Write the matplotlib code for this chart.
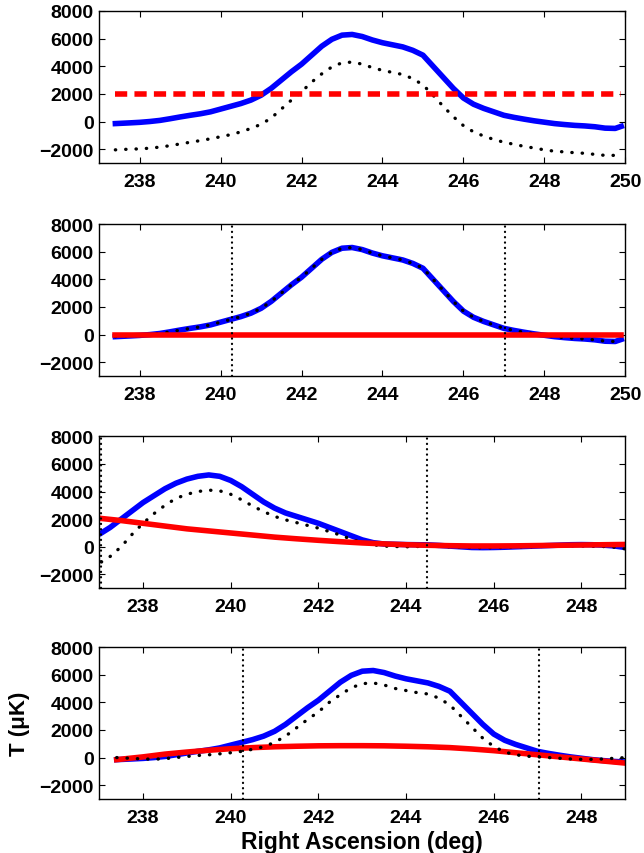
import numpy as np
import matplotlib
matplotlib.use("Agg")
import matplotlib.pyplot as plt

plt.rcParams['font.family'] = ['Liberation Sans', 'DejaVu Sans']
plt.rcParams['font.weight'] = 'bold'

# sky signal (blue), shared by panels 1, 2 and 4
ra = [237.4, 237.75, 238.0, 238.25, 238.5, 238.75, 239.0, 239.25, 239.5, 239.75,
      240.0, 240.25, 240.5, 240.75, 241.0, 241.25, 241.5, 241.75, 242.0, 242.25,
      242.5, 242.75, 243.0, 243.25, 243.5, 243.75, 244.0, 244.25, 244.5, 244.75,
      245.0, 245.25, 245.5, 245.75, 246.0, 246.25, 246.5, 246.75, 247.0, 247.25,
      247.5, 247.75, 248.0, 248.25, 248.5, 248.75, 249.0, 249.25, 249.5, 249.75, 249.9]
sky = [-150, -100, -60, 0, 80, 200, 330, 450, 560, 700,
       900, 1100, 1300, 1550, 1900, 2400, 3000, 3600, 4150, 4800,
       5450, 5950, 6250, 6300, 6150, 5900, 5700, 5550, 5400, 5150,
       4800, 4000, 3200, 2400, 1700, 1250, 950, 700, 450, 300,
       170, 50, -50, -150, -220, -280, -320, -380, -480, -500, -350]

# panel 1: constant offset baseline and residual
offset1 = 2000
resid1 = [-2050, -2000, -1980, -1930, -1850, -1750, -1620, -1500, -1380, -1250,
          -1100, -950, -750, -500, -200, 250, 900, 1550, 2150, 2850,
          3450, 3950, 4250, 4300, 4150, 3900, 3700, 3550, 3400, 3100,
          2650, 1900, 1100, 350, -300, -750, -1050, -1300, -1500, -1650,
          -1800, -1920, -2050, -2150, -2200, -2260, -2300, -2380, -2450, -2450, -2300]

# panel 2: zero baseline, window edges
base2 = 0
win2 = [240.28, 247.03]

# panel 3
ra3 = [237.05, 237.25, 237.5, 237.75, 238.0, 238.25, 238.5, 238.75, 239.0, 239.25,
       239.5, 239.75, 240.0, 240.25, 240.5, 240.75, 241.0, 241.25, 241.5, 241.75,
       242.0, 242.25, 242.5, 242.75, 243.0, 243.25, 243.5, 243.75, 244.0, 244.25,
       244.5, 244.75, 245.0, 245.25, 245.5, 245.75, 246.0, 246.25, 246.5, 246.75,
       247.0, 247.25, 247.5, 247.75, 248.0, 248.25, 248.5, 248.75, 249.0]
sky3 = [1000, 1400, 2000, 2600, 3200, 3700, 4200, 4600, 4900, 5100,
        5200, 5100, 4800, 4350, 3800, 3250, 2800, 2450, 2200, 1950,
        1700, 1400, 1100, 800, 500, 300, 200, 180, 160, 150,
        140, 100, 50, 0, -50, -60, -50, -30, 0, 30,
        60, 90, 120, 150, 160, 150, 120, 60, -50]
resid3 = [-1100, -700, 0, 900, 1700, 2400, 3000, 3500, 3800, 4000,
          4100, 4050, 3800, 3400, 2950, 2550, 2200, 1950, 1750, 1550,
          1350, 1100, 850, 550, 300, 150, 50, 20, 0, 20,
          50, 30, 0, -30, -60, -70, -60, -40, -20, 0,
          20, 40, 60, 70, 60, 40, 20, -30, -150]
ra3_base = [237.05, 237.5, 238.0, 238.5, 239.0, 239.5, 240.0, 240.5, 241.0, 241.5,
            242.0, 242.5, 243.0, 243.5, 244.0, 244.5, 245.0, 245.5, 246.0, 246.5,
            247.0, 247.5, 248.0, 248.5, 249.0]
base3 = [2050, 1900, 1700, 1500, 1300, 1150, 1000, 850, 700, 580,
         470, 370, 280, 210, 150, 110, 80, 60, 60, 70,
         90, 110, 130, 150, 170]
win3 = [237.05, 244.47]

# panel 4
resid4 = [0, -60, -100, -120, -80, 0, 80, 150, 200, 270,
          350, 450, 600, 780, 1100, 1550, 2150, 2750, 3300, 4000,
          4550, 5050, 5350, 5400, 5250, 5000, 4850, 4700, 4600, 4300,
          3800, 3000, 2200, 1400, 800, 400, 200, 100, 50, 0,
          -50, -100, -130, -130, -100, -50, 0, 0, 0, 0, 0]
ra4_base = [237.4, 238.0, 238.5, 239.0, 239.5, 240.0, 240.5, 241.0, 241.5, 242.0,
            242.5, 243.0, 243.5, 244.0, 244.5, 245.0, 245.5, 246.0, 246.5, 247.0,
            247.5, 248.0, 248.5, 249.0, 249.5]
base4 = [-150, 50, 250, 400, 530, 640, 720, 780, 820, 850,
         860, 860, 850, 820, 780, 720, 620, 500, 350, 200,
         50, -100, -250, -400, -550]
win4 = [240.28, 247.03]

yticks = [-2000, 0, 2000, 4000, 6000, 8000]

fig = plt.figure(figsize=(6.44, 8.54), dpi=100)
left, width, height = 0.154, 0.817, 0.178
bottoms = [0.808, 0.5585, 0.310, 0.0632]
axes = [fig.add_axes([left, b, width, height]) for b in bottoms]

lw = 4.0
dot = dict(color='k', lw=2.4, linestyle=(0, (0.1, 3.0)), dash_capstyle='round')
vdot = dict(color='k', lw=1.6, linestyle=(0, (0.1, 2.3)), dash_capstyle='round')

ax = axes[0]
ax.plot(ra, sky, color='b', lw=lw)
ax.plot(ra, resid1, **dot)
ax.plot([ra[0], ra[-1]], [offset1, offset1], color='r', lw=lw, linestyle=(0, (2.2, 1.3)))
ax.set_xlim(237, 250)
ax.set_xticks(range(238, 251, 2))

ax = axes[1]
ax.plot(ra, sky, color='b', lw=lw)
ax.plot(ra, sky, **dot)
ax.plot([ra[0], ra[-1]], [base2, base2], color='r', lw=lw)
for w in win2:
    ax.axvline(w, **vdot)
ax.set_xlim(237, 250)
ax.set_xticks(range(238, 251, 2))

ax = axes[2]
ax.plot(ra3, sky3, color='b', lw=lw)
ax.plot(ra3, resid3, **dot)
ax.plot(ra3_base, base3, color='r', lw=lw)
for w in win3:
    ax.axvline(w, **vdot)
ax.set_xlim(237, 249)
ax.set_xticks(range(238, 249, 2))

ax = axes[3]
ax.plot(ra, sky, color='b', lw=lw)
ax.plot(ra4_base, base4, color='r', lw=lw)
ax.plot(ra[:47], resid4[:47], **dot)
for w in win4:
    ax.axvline(w, **vdot)
ax.set_xlim(237, 249)
ax.set_xticks(range(238, 249, 2))
ax.set_xlabel('Right Ascension (deg)', fontsize=16.5, fontweight='bold', labelpad=3)
ax.set_ylabel('T (μK)', fontsize=16, fontweight='bold', labelpad=7)

for ax in axes:
    ax.set_ylim(-3000, 8000)
    ax.set_yticks(yticks)
    ax.tick_params(direction='in', top=True, right=True, length=4, width=0.8,
                   labelsize=14)
    ax.tick_params(axis='x', pad=7)
    ax.tick_params(axis='y', pad=4)
    for lab in ax.get_xticklabels() + ax.get_yticklabels():
        lab.set_fontweight('bold')
    for s in ax.spines.values():
        s.set_linewidth(1.0)

fig.savefig('out.png', dpi=100)
